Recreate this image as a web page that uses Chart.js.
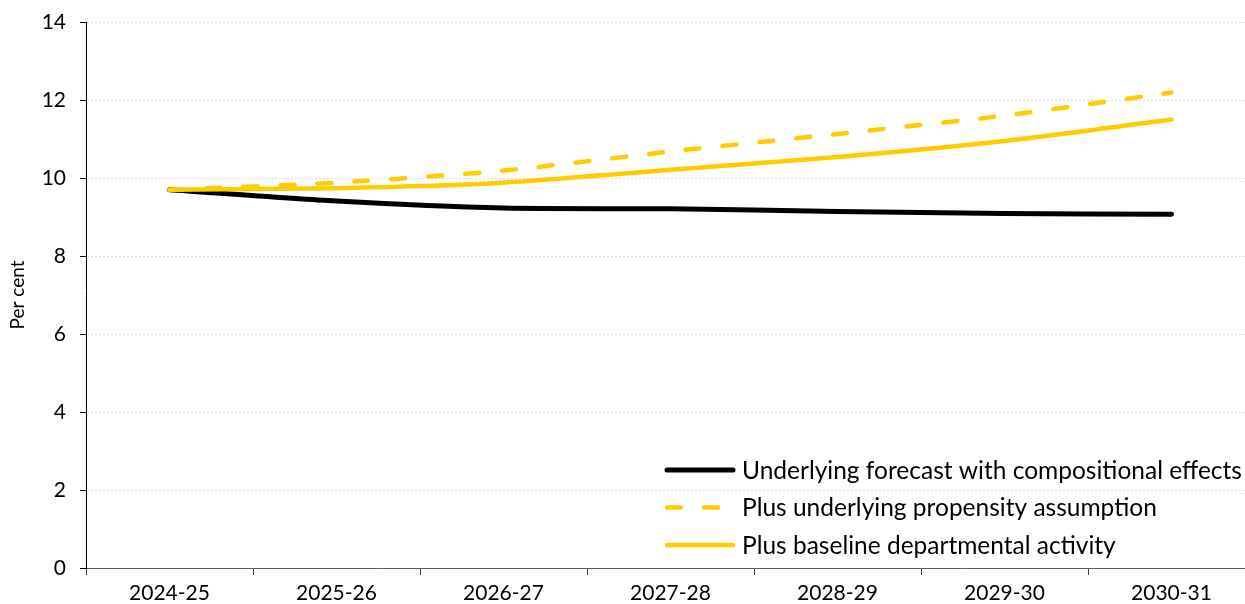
<!DOCTYPE html>
<html>
<head>
<meta charset="utf-8">
<script src="https://cdn.jsdelivr.net/npm/chart.js@4/dist/chart.umd.min.js"></script>
<style>
  html, body { margin: 0; padding: 0; background: #fff; overflow: hidden; }
  #wrap { width: 1245px; height: 604px; overflow: hidden; }
  canvas { display: block; }
</style>
</head>
<body>
<div id="wrap"><canvas id="c" width="1260" height="604"></canvas></div>
<script>
// Fiscal years on the horizontal axis
const years = ['2024-25', '2025-26', '2026-27', '2027-28', '2028-29', '2029-30', '2030-31'];

// Per cent series
const underlyingCompositional = [9.70, 9.41, 9.23, 9.21, 9.14, 9.09, 9.07];
const plusPropensity = [9.70, 9.88, 10.19, 10.68, 11.13, 11.60, 12.19];
const plusDepartmental = [9.70, 9.74, 9.88, 10.21, 10.54, 10.95, 11.50];

const seriesNames = [
  'Underlying forecast with compositional effects',
  'Plus underlying propensity assumption',
  'Plus baseline departmental activity'
];

const yTicks = [0, 2, 4, 6, 8, 10, 12, 14];

const BLACK = '#000000';
const GOLD = '#FFCC00';
const FONT = 'Lato, "DejaVu Sans", sans-serif';

// Legend drawn inside the plot area, bottom right
const insideLegend = {
  id: 'insideLegend',
  afterDatasetsDraw(chart) {
    const { ctx, chartArea } = chart;
    const x0 = chartArea.right - 590;
    const lineLen = 68;
    const rowH = 37.5;
    const y0 = chartArea.bottom - 98;
    ctx.save();
    ctx.font = '24.5px ' + FONT;
    ctx.textBaseline = 'middle';
    ctx.fillStyle = '#000';
    chart.data.datasets.forEach((ds, i) => {
      const y = y0 + i * rowH;
      ctx.beginPath();
      ctx.lineWidth = ds.borderWidth;
      ctx.strokeStyle = ds.borderColor;
      ctx.lineCap = 'round';
      ctx.setLineDash(ds.borderDash || []);
      ctx.moveTo(x0 + 2, y);
      ctx.lineTo(x0 + lineLen, y);
      ctx.stroke();
      ctx.setLineDash([]);
      ctx.fillText(ds.label, x0 + lineLen + 9, y + 1);
    });
    ctx.restore();
  }
};

new Chart(document.getElementById('c'), {
  type: 'line',
  data: {
    labels: years,
    datasets: [
      {
        label: seriesNames[0],
        data: underlyingCompositional,
        borderColor: BLACK,
        borderWidth: 5,
        pointRadius: 0,
        tension: 0.25,
        borderCapStyle: 'round',
        order: 3
      },
      {
        label: seriesNames[1],
        data: plusPropensity,
        borderColor: GOLD,
        borderWidth: 4.5,
        borderDash: [14, 23],
        borderCapStyle: 'round',
        pointRadius: 0,
        tension: 0.25,
        order: 1
      },
      {
        label: seriesNames[2],
        data: plusDepartmental,
        borderColor: GOLD,
        borderWidth: 4.5,
        pointRadius: 0,
        tension: 0.25,
        borderCapStyle: 'round',
        order: 2
      }
    ]
  },
  options: {
    responsive: false,
    animation: false,
    layout: { padding: { top: 22, right: 5, left: 0, bottom: 0 } },
    plugins: {
      legend: { display: false },
      tooltip: { enabled: false }
    },
    scales: {
      x: {
        offset: true,
        grid: {
          offset: true,
          drawOnChartArea: false,
          drawTicks: true,
          tickLength: 7,
          tickColor: '#404040',
          tickWidth: 1
        },
        border: { color: '#595959', width: 1 },
        ticks: {
          color: '#000',
          font: { family: FONT, size: 21 },
          padding: 6,
          maxRotation: 0
        },
        afterFit(scale) {
          scale.height = 36;
          scale.paddingLeft = 0;
          scale.paddingRight = 0;
        }
      },
      y: {
        min: 0,
        max: 14,
        afterBuildTicks(scale) { scale.ticks = yTicks.map(v => ({ value: v })); },
        grid: {
          color: '#d9d9d9',
          lineWidth: 1,
          borderDash: [2, 2],
          tickLength: 6,
          tickColor: '#000',
          tickWidth: 1,
          tickBorderDash: [100, 0]
        },
        border: { color: '#000', width: 1, dash: [2, 2] },
        ticks: {
          color: '#000',
          font: { family: FONT, size: 21 },
          padding: 14
        },
        title: {
          display: true,
          text: 'Per cent',
          color: '#000',
          font: { family: FONT, size: 19 },
          padding: { top: 6, bottom: 0 }
        },
        afterFit(scale) {
          scale.width = 86;
          scale.paddingTop = 0;
          scale.paddingBottom = 0;
        }
      }
    }
  },
  plugins: [insideLegend]
});
</script>
</body>
</html>
